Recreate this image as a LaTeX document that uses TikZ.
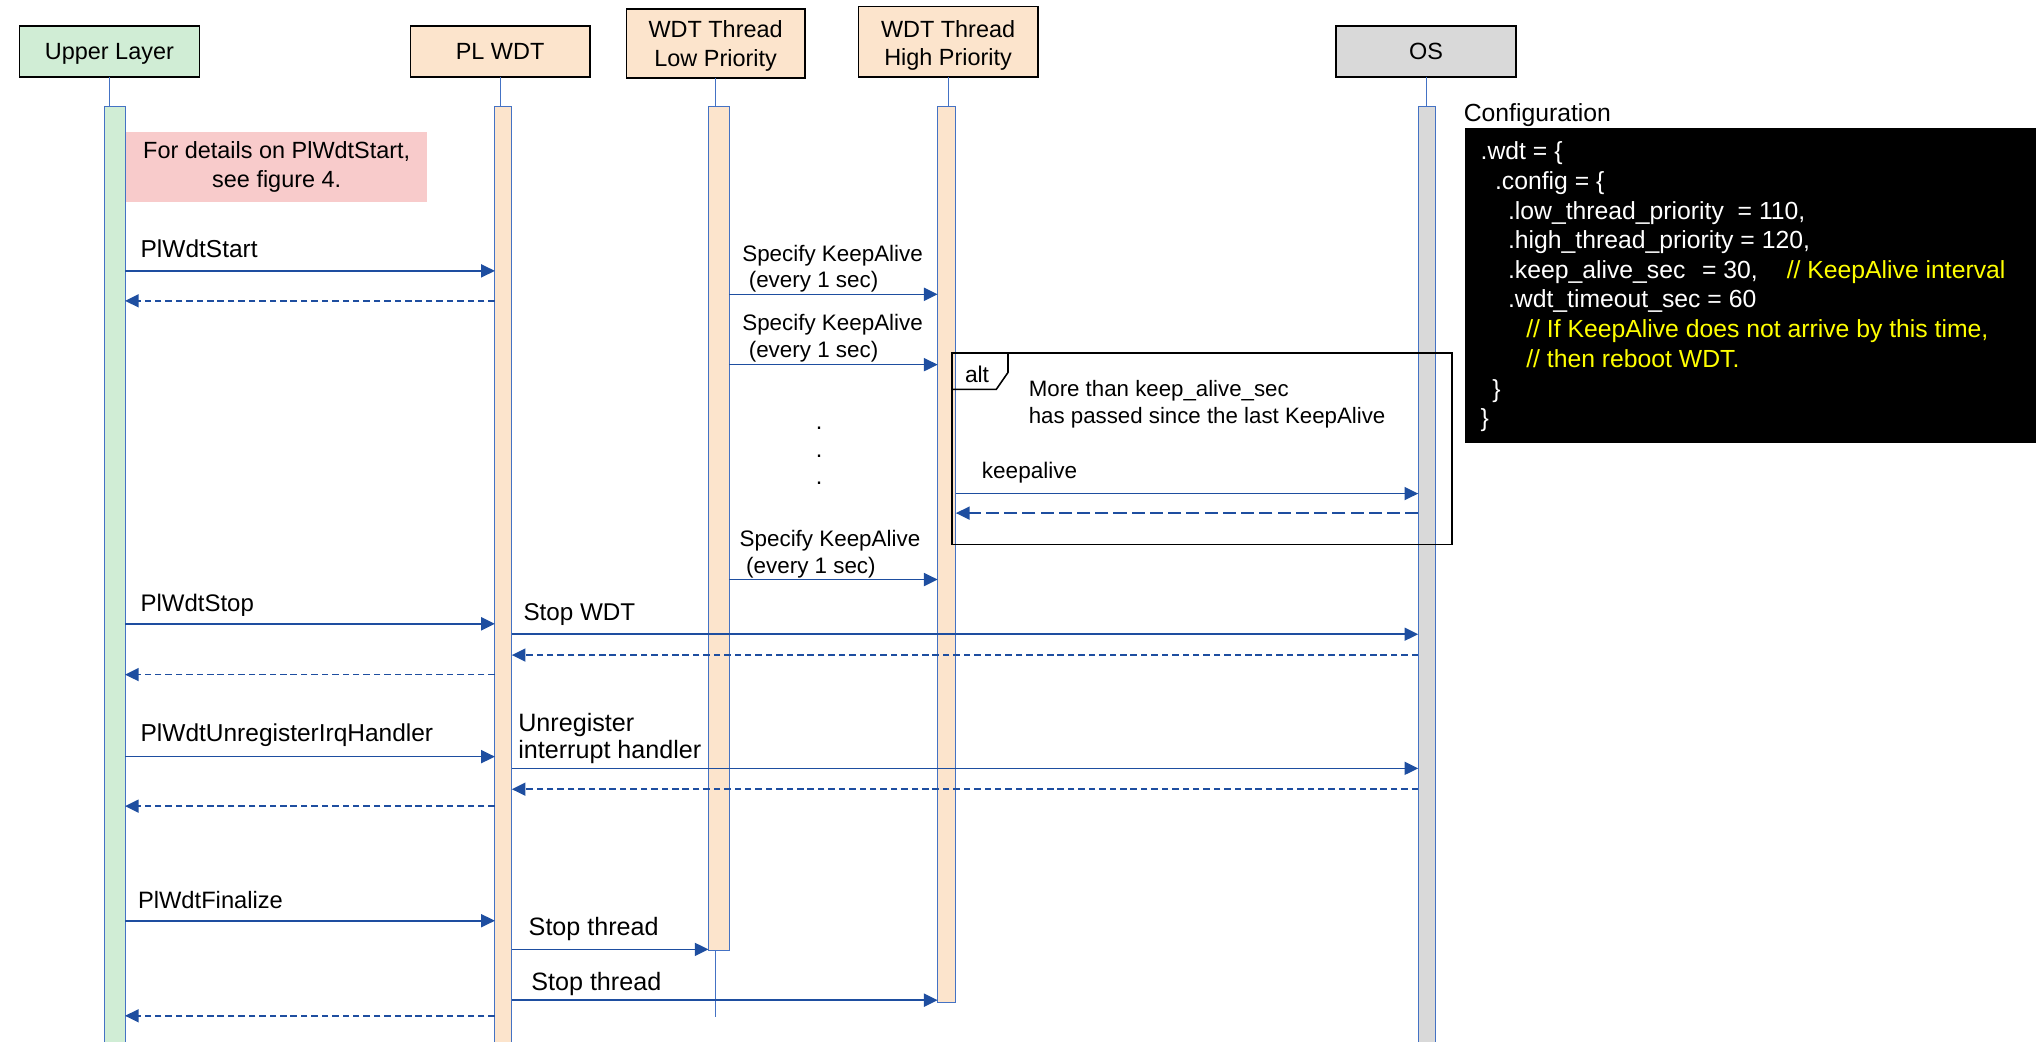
\documentclass[tikz,border=0pt]{standalone}
\usepackage{fontspec}
\setmainfont{Liberation Sans}
\usetikzlibrary{arrows.meta}
\definecolor{hgreen}{RGB}{208,237,213}
\definecolor{hpeach}{RGB}{252,228,204}
\definecolor{hgray}{RGB}{217,217,217}
\definecolor{hpink}{RGB}{248,203,203}
\definecolor{arrblue}{RGB}{30,78,160}
\definecolor{lineblue}{RGB}{68,114,196}
\definecolor{codeyellow}{RGB}{255,255,0}
\begin{document}
\begin{tikzpicture}[x=1pt,y=-1pt,
  every node/.style={font=\fontsize{18}{22}\selectfont, inner sep=0pt, outer sep=0pt},
  fs/.style={font=\fontsize{#1}{22}\selectfont},
  hdr/.style={draw=black, line width=1.1pt, minimum width=138pt, align=center, text depth=0pt},
  actbar/.style={draw=lineblue, line width=0.8pt, anchor=north west},
  life/.style={draw=lineblue, line width=0.8pt},
  msg/.style={draw=arrblue, line width=1.2pt, -{Triangle[length=10.5pt,width=10pt]}},
  ret/.style={msg, dash pattern=on 5pt off 3pt},
  lbl/.style={anchor=base west},
  code/.style={anchor=base west, text=white, fs=19},
  cmt/.style={anchor=base west, text=codeyellow, fs=19},
]
\useasboundingbox (0,0) rectangle (1568,800);
\clip (0,0) rectangle (1568,800);

% headers
\node[hdr, fill=hgreen, minimum height=39pt] (ul) at (84,39.5) {Upper Layer};
\node[hdr, fill=hpeach, minimum height=39pt] (pl) at (384,39.5) {PL WDT};
\node[hdr, fill=hpeach, minimum width=137pt, minimum height=53pt] (low) at (549.5,33.5) {WDT Thread\\Low Priority};
\node[hdr, fill=hpeach, minimum height=54pt] (high) at (728,32) {\rule{0pt}{15pt}WDT Thread\\High Priority};
\node[hdr, fill=hgray, minimum height=39pt] (os) at (1095,39.5) {OS};

% activation bars
\node[actbar, fill=hgreen, minimum width=16pt, minimum height=730pt] (ulbar) at (80,82) {};
\node[actbar, fill=hpeach, minimum width=13pt, minimum height=730pt] (plbar) at (380,82) {};
\node[actbar, fill=hpeach, minimum width=16pt, minimum height=648pt] (lowbar) at (544,82) {};
\node[actbar, fill=hpeach, minimum width=14pt, minimum height=687.5pt] (highbar) at (720,82) {};
\node[actbar, fill=hgray, minimum width=13pt, minimum height=730pt] (osbar) at (1089,82) {};

% lifelines
\draw[life] (ul.south) -- (ul.south |- ulbar.north);
\draw[life] (pl.south) -- (pl.south |- plbar.north);
\draw[life] (low.south) -- (low.south |- lowbar.north);
\draw[life] (high.south) -- (high.south |- highbar.north);
\draw[life] (os.south) -- (os.south |- osbar.north);
\coordinate (lowend) at (0,781);
\draw[life] (low.south |- lowbar.south) -- (low.south |- lowend);

% note
\node[fill=hpink, minimum width=231pt, minimum height=54pt, align=center] (note) at (212.5,128) {For details on PlWdtStart,\\see figure 4.};

% row coordinates
\coordinate (r1) at (0,208);
\coordinate (r2) at (0,231);
\coordinate (r3) at (0,226);
\coordinate (r4) at (0,280);
\coordinate (r5) at (0,445);
\coordinate (r6) at (0,379);
\coordinate (r7) at (0,394);
\coordinate (r8) at (0,479);
\coordinate (r9) at (0,487);
\coordinate (r10) at (0,503);
\coordinate (r11) at (0,518);
\coordinate (r12) at (0,581);
\coordinate (r13) at (0,590);
\coordinate (r14) at (0,606);
\coordinate (r15) at (0,619);
\coordinate (r16) at (0,707);
\coordinate (r17) at (0,729);
\coordinate (r18) at (0,768);
\coordinate (r19) at (0,780);

% alt frame
\node[draw=black, line width=1.2pt, minimum width=384pt, minimum height=147pt, anchor=north west] (alt) at (731,271) {};
\draw[line width=1.2pt] ([xshift=43pt]alt.north west) -- ++(0,15) -- ++(-9,13) -- ++(-34,0);
\node[lbl, fs=17.5] (altl) at (741,293.5) {alt};
\node[lbl, fs=17.1] (altc1) at (790,304.5) {More than keep\_alive\_sec};
\node[lbl, fs=17.1] (altc2) at (790,325.5) {has passed since the last KeepAlive};

% messages
\draw[msg] (ulbar.east |- r1) -- (plbar.west |- r1);
\node[lbl, fs=18.8] (m1) at (108,197.5) {PlWdtStart};
\draw[ret] (plbar.west |- r2) -- (ulbar.east |- r2);

\draw[msg] (lowbar.east |- r3) -- (highbar.west |- r3);
\node[lbl, fs=17.2] (m3a) at (570,200.5) {Specify KeepAlive};
\node[lbl, fs=17.2] (m3b) at (575,220.5) {(every 1 sec)};
\draw[msg] (lowbar.east |- r4) -- (highbar.west |- r4);
\node[lbl, fs=17.2] (m4a) at (570,253.5) {Specify KeepAlive};
\node[lbl, fs=17.2] (m4b) at (575,274.5) {(every 1 sec)};
\node[anchor=base] (d1) at (629,330) {.};
\node[anchor=base] (d2) at (629,351) {.};
\node[anchor=base] (d3) at (629,372) {.};
\draw[msg] (lowbar.east |- r5) -- (highbar.west |- r5);
\node[lbl, fs=17.2] (m5a) at (568,419.5) {Specify KeepAlive};
\node[lbl, fs=17.2] (m5b) at (573,440.5) {(every 1 sec)};

\draw[msg] (highbar.east |- r6) -- (osbar.west |- r6);
\node[lbl, fs=17.3] (m6) at (754,367.5) {keepalive};
\draw[msg, dash pattern=on 10pt off 4pt] (osbar.west |- r7) -- (highbar.east |- r7);

\draw[msg] (ulbar.east |- r8) -- (plbar.west |- r8);
\node[lbl, fs=18.4] (m8) at (108,469.5) {PlWdtStop};
\draw[msg] (plbar.east |- r9) -- (osbar.west |- r9);
\node[lbl, fs=18.6] (m9) at (402,476.5) {Stop WDT};
\draw[ret] (osbar.west |- r10) -- (plbar.east |- r10);
\draw[ret] (plbar.west |- r11) -- (ulbar.east |- r11);

\draw[msg] (ulbar.east |- r12) -- (plbar.west |- r12);
\node[lbl, fs=18.8] (m12) at (108,569.5) {PlWdtUnregisterIrqHandler};
\draw[msg] (plbar.east |- r13) -- (osbar.west |- r13);
\node[lbl, fs=19.3] (m13a) at (398,561.5) {Unregister};
\node[lbl, fs=19.3] (m13b) at (398,582.5) {interrupt handler};
\draw[ret] (osbar.west |- r14) -- (plbar.east |- r14);
\draw[ret] (plbar.west |- r15) -- (ulbar.east |- r15);

\draw[msg] (ulbar.east |- r16) -- (plbar.west |- r16);
\node[lbl, fs=18.2] (m16) at (106,697.5) {PlWdtFinalize};
\draw[msg] (plbar.east |- r17) -- (lowbar.west |- r17);
\node[lbl, fs=19.3] (m17) at (406,718.5) {Stop thread};
\draw[msg] (plbar.east |- r18) -- (highbar.west |- r18);
\node[lbl, fs=19.3] (m18) at (408,760.5) {Stop thread};
\draw[ret] (plbar.west |- r19) -- (ulbar.east |- r19);

% configuration
\node[lbl, fs=19] (cfgt) at (1124,93.5) {Configuration};
\node[fill=black, minimum width=438pt, minimum height=242pt, anchor=north west] (cfg) at (1125,98) {};
\node[code] (c1) at (1137,122.5) {.wdt = \{};
\node[code] (c2) at (1148,145.5) {.config = \{};
\node[code] (c3) at (1158,168.5) {.low\_thread\_priority\ \ = 110,};
\node[code] (c4) at (1158,190.5) {.high\_thread\_priority = 120,};
\node[code] (c5) at (1158,213.5) {.keep\_alive\_sec};
\node[code] (c5b) at (1307,213.5) {= 30,};
\node[cmt] (c5c) at (1372,213.5) {// KeepAlive interval};
\node[code] (c6) at (1158,236.5) {.wdt\_timeout\_sec = 60};
\node[cmt] (c7) at (1172,259.5) {// If KeepAlive does not arrive by this time,};
\node[cmt] (c8) at (1172,282.5) {// then reboot WDT.};
\node[code] (c9) at (1146,305.5) {\}};
\node[code] (c10) at (1137,327.5) {\}};
\end{tikzpicture}
\end{document}
